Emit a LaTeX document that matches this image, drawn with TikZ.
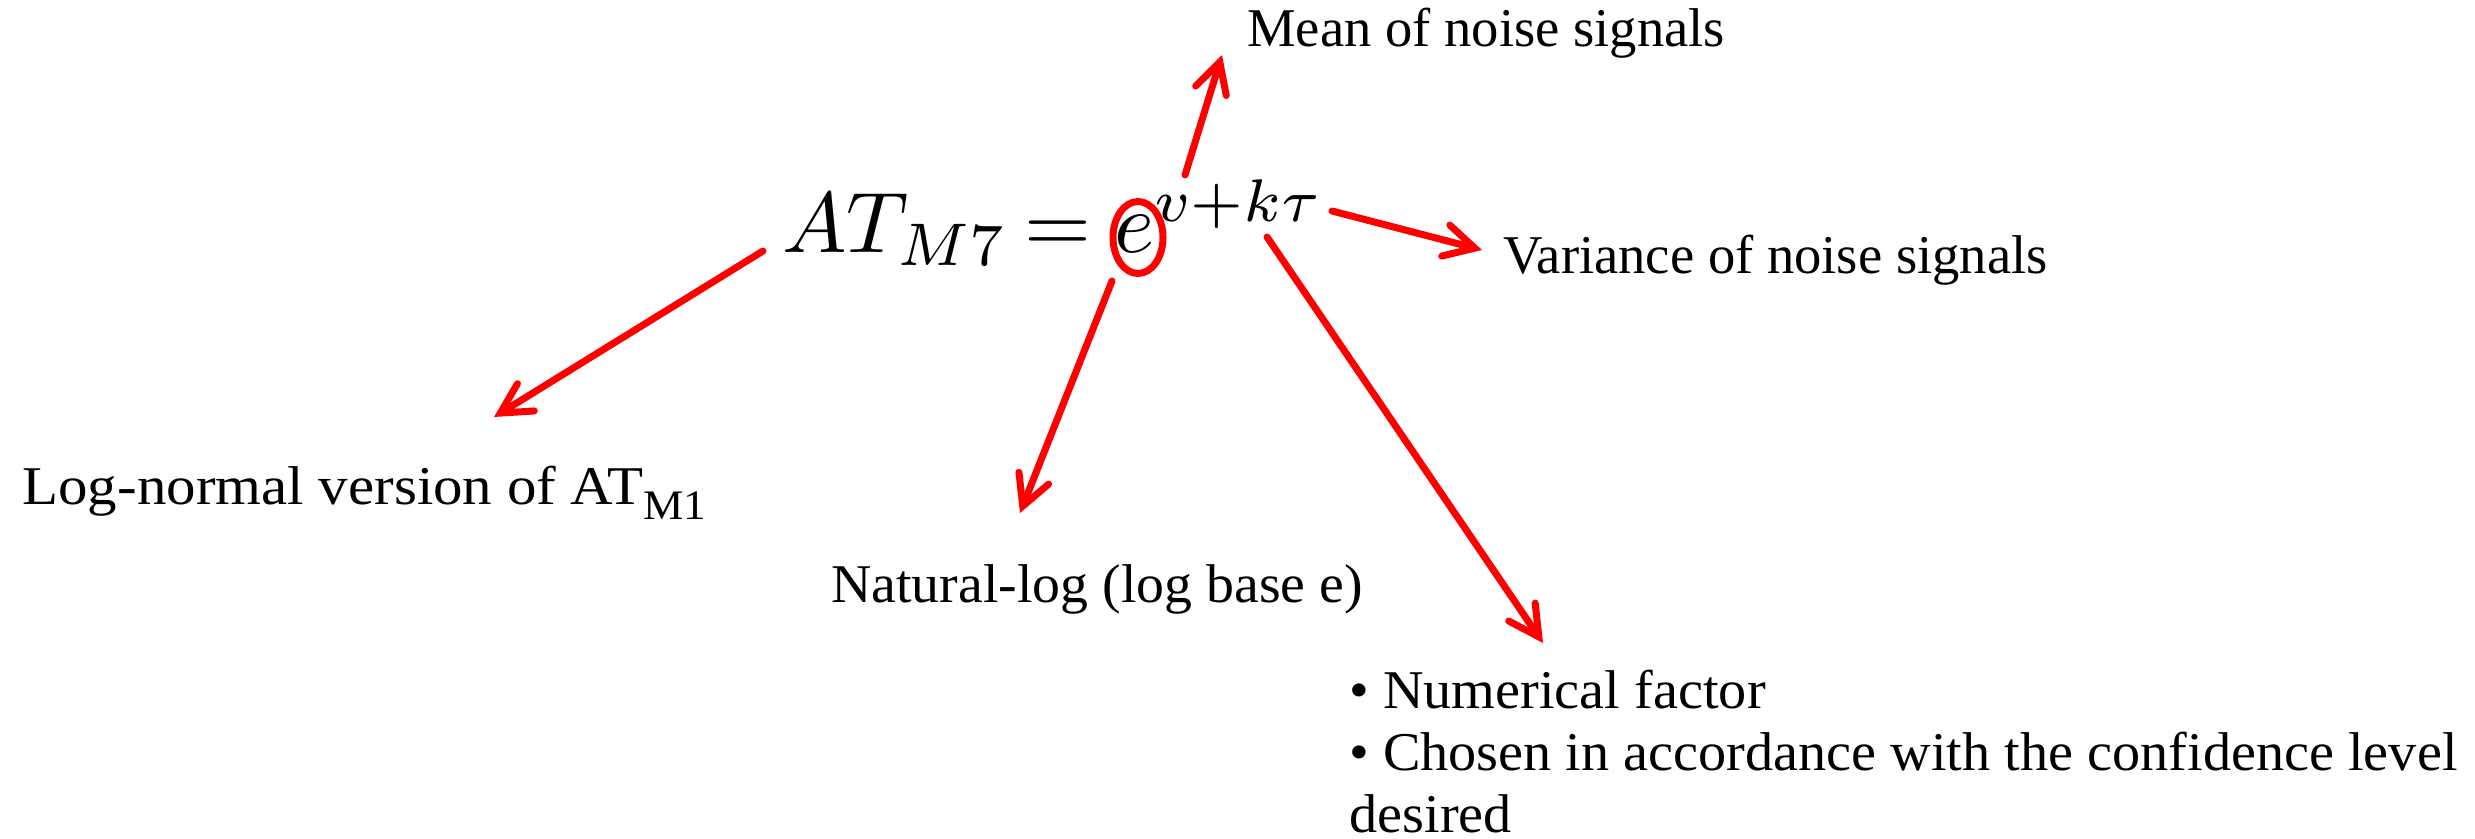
\documentclass[tikz,border=0pt]{standalone}
\usepackage{fontspec}
\setmainfont{Liberation Serif}
\newfontfamily\lblwideA[FakeStretch=1.08]{Liberation Serif}
\newfontfamily\lblwideB[FakeStretch=1.022]{Liberation Serif}
\newfontfamily\lblwideC[FakeStretch=1.03]{Liberation Serif}
\usetikzlibrary{arrows.meta,shapes.geometric}
\definecolor{arrred}{RGB}{255,0,0}
\begin{document}
\begin{tikzpicture}[x=0.5pt,y=-0.5pt,
  lbl/.style={inner sep=0pt, anchor=base west, font=\fontsize{27.3}{31}\selectfont},
  callout/.style={draw=arrred, line width=3.5pt, line cap=round,
    -{Straight Barb[length=15pt,width=16pt,line cap=round]}}]
\useasboundingbox (0,0) rectangle (2475,839);

% equation
\node[inner sep=0pt, anchor=base west] (eq) at (782,253)
  {\scalebox{4.3}{$AT_{M7}\mkern-1.5mu=\mkern-0.2mu e^{v+k\tau}$}};
\node[ellipse, draw=arrred, line width=3.5pt, inner sep=0pt,
  minimum width=25pt, minimum height=36pt] (ering) at (1138,237.5) {};

% labels
\node[lbl] (mean) at (1247,47) {Mean of noise signals};
\node[lbl] (var) at (1503,274) {Variance of noise signals};
\node[lbl] (logn) at (22,505) {\lblwideA Log-normal version of AT\raisebox{-7.5pt}{\fontsize{21}{24}\selectfont M1}};
\node[lbl] (natlog) at (831,603) {\lblwideB Natural-log (log base e)};
\node[lbl, align=left] (factor) at (1349,832)
  {\lblwideC • Numerical factor\\\lblwideC • Chosen in accordance with the confidence level\\\lblwideC desired};

% arrow ends
\coordinate (meanT) at (1185,175);  \coordinate (meanH) at (1222,55);
\coordinate (varT) at (1332,211);   \coordinate (varH) at (1482,250);
\coordinate (lognT) at (763,251);   \coordinate (lognH) at (494,417);
\coordinate (natT) at (1112,281);   \coordinate (natH) at (1020,513);
\coordinate (facT) at (1267,237);   \coordinate (facH) at (1543,643);

\draw[callout] (meanT) -- (meanH);
\draw[callout] (varT) -- (varH);
\draw[callout] (lognT) -- (lognH);
\draw[callout] (natT) -- (natH);
\draw[callout] (facT) -- (facH);
\end{tikzpicture}
\end{document}
